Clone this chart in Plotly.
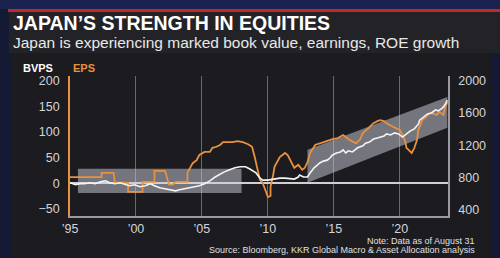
import plotly.graph_objects as go

# ---- data ----
# EPS (left axis)
eps_year = [1995.0, 1997.4, 1997.4, 1998.3, 1998.4, 1999.4, 1999.4, 2000.5, 2000.5, 2001.4, 2001.4, 2002.2, 2002.3, 2002.5,
            2002.8, 2003.0, 2003.9, 2003.9, 2004.3, 2004.6, 2004.8, 2005.2, 2005.6, 2005.8, 2006.1, 2006.4, 2006.6, 2007.3,
            2007.7, 2008.1, 2008.5, 2008.8, 2009.0, 2009.2, 2009.4, 2009.6, 2009.8, 2010.0, 2010.2, 2010.2, 2010.4, 2010.5,
            2010.9, 2011.3, 2011.5, 2011.7, 2011.9, 2012.0, 2012.3, 2012.6, 2012.8, 2013.0, 2013.2, 2013.6, 2014.0, 2014.2,
            2014.5, 2014.9, 2015.3, 2015.7, 2015.9, 2016.2, 2016.5, 2016.7, 2017.0, 2017.2, 2017.6, 2018.0, 2018.3, 2018.5,
            2018.8, 2019.0, 2019.4, 2019.8, 2020.0, 2020.2, 2020.4, 2020.5, 2020.8, 2020.9, 2021.1, 2021.3, 2021.4, 2021.6,
            2021.7, 2022.0, 2022.3, 2022.6, 2022.8, 2023.0, 2023.3, 2023.4, 2023.6]
eps_value = [12, 12, 20, 20, 1, 1, -17, -17, 2.5, 2.5, 24, 24, 16, -3,
             -3, 2.5, 2.5, 20, 39, 45, 55, 61, 61, 69, 71, 75, 80, 80,
             82, 80, 76, 71, 51, 26, 6, 1, -13, -27, -25, -7, 16, 32,
             51, 59, 55, 45, 36, 30, 36, 26, 30, 41, 59, 75, 78, 80,
             82, 86, 88, 94, 90, 84, 80, 78, 86, 98, 107, 117, 121, 123,
             121, 117, 111, 107, 104, 94, 82, 69, 61, 59, 69, 84, 104, 115,
             123, 130, 137, 135, 133, 139, 133, 146, 158]

# BVPS (right axis, index units)
bvps_year = [1995.0, 1995.4, 1995.8, 1996.1, 1996.5, 1996.9, 1997.3, 1997.7, 1998.0, 1998.4, 1998.8, 1999.2, 1999.5, 1999.9,
             2000.3, 2000.7, 2001.1, 2001.4, 2001.8, 2002.2, 2002.6, 2003.0, 2003.3, 2003.7, 2004.1, 2004.5, 2004.8, 2005.2,
             2005.6, 2006.0, 2006.4, 2006.7, 2007.1, 2007.5, 2007.9, 2008.3, 2008.6, 2008.9, 2009.1, 2009.4, 2009.6, 2010.0,
             2010.5, 2010.9, 2011.3, 2011.7, 2012.0, 2012.3, 2012.4, 2012.7, 2013.0, 2013.2, 2013.5, 2013.7, 2013.9, 2014.2,
             2014.5, 2014.7, 2014.9, 2015.2, 2015.5, 2015.7, 2015.9, 2016.1, 2016.4, 2016.6, 2016.8, 2017.2, 2017.4, 2017.7,
             2018.0, 2018.3, 2018.5, 2018.8, 2019.0, 2019.3, 2019.6, 2019.9, 2020.2, 2020.5, 2020.8, 2021.1, 2021.4, 2021.5,
             2021.8, 2022.1, 2022.4, 2022.7, 2022.9, 2023.2, 2023.4, 2023.6]
bvps_value = [738, 713, 726, 726, 738, 726, 748, 761, 738, 726, 738, 713, 700, 713,
              688, 700, 726, 700, 675, 662, 650, 637, 650, 662, 675, 688, 700, 726,
              761, 808, 846, 872, 897, 922, 935, 935, 910, 884, 859, 795, 770, 770,
              783, 795, 795, 783, 783, 808, 834, 808, 808, 859, 922, 948, 979, 1005,
              1017, 1043, 1081, 1106, 1119, 1144, 1106, 1132, 1119, 1144, 1170, 1195, 1227, 1240,
              1278, 1290, 1303, 1316, 1341, 1328, 1354, 1341, 1303, 1341, 1379, 1404, 1462, 1512,
              1550, 1588, 1601, 1639, 1627, 1658, 1696, 1760]

# shaded ranges (left axis units)
band1_year = [1995.6, 2008.0]
band1_low = [-19, -19]
band1_high = [28, 28]
band2_year = [2013.0, 2023.6]
band2_low = [1, 108]
band2_high = [65, 168]

x_ticks = [1995, 2000, 2005, 2010, 2015, 2020]
x_tick_labels = ["\u201995", "\u201900", "\u201905", "\u201910", "\u201915", "\u201920"]
left_ticks = [-50, 0, 50, 100, 150, 200]
right_ticks = [400, 800, 1200, 1600, 2000]

ORANGE = "#e8913f"
WHITE = "#f4f4f4"
BAND = "rgba(205,205,220,0.5)"
FONT = "Liberation Sans"
TICKCOL = "#d4d4d8"

W, H = 500, 258
L, R, T, B = 70, 448, 76, 216


def px(x):
    return (x - L) / (R - L)


def py(y):
    return (B - y) / (B - T)


fig = go.Figure()

for xs, lo, hi in [(band1_year, band1_low, band1_high), (band2_year, band2_low, band2_high)]:
    fig.add_trace(go.Scatter(
        x=xs + xs[::-1], y=hi + lo[::-1], fill="toself", fillcolor=BAND,
        line=dict(width=0), mode="lines", hoverinfo="skip", showlegend=False))

fig.add_trace(go.Scatter(x=eps_year, y=eps_value, mode="lines", name="EPS",
                         line=dict(color=ORANGE, width=1.8), showlegend=False))
fig.add_trace(go.Scatter(x=bvps_year, y=bvps_value, mode="lines", name="BVPS", yaxis="y2",
                         line=dict(color=WHITE, width=1.6), showlegend=False))

shapes = [
    dict(type="rect", xref="paper", yref="paper", x0=px(0), x1=px(W), y0=py(0), y1=py(9),
         fillcolor="#1a2350", line=dict(width=0), layer="below"),
    dict(type="rect", xref="paper", yref="paper", x0=px(9), x1=px(W), y0=py(11), y1=py(53),
         fillcolor="#232327", line=dict(width=0), layer="below"),
    dict(type="rect", xref="paper", yref="paper", x0=px(12), x1=px(491), y0=py(53), y1=py(W),
         fillcolor="#1c1c20", line=dict(width=0), layer="below"),
    dict(type="rect", xref="paper", yref="paper", x0=px(8), x1=px(W), y0=py(9), y1=py(12),
         fillcolor="#c8242c", line=dict(width=0), layer="below"),
]

annotations = [
    dict(text="<b>JAPAN\u2019S STRENGTH IN EQUITIES</b>", xref="paper", yref="paper", x=px(11), y=py(23),
         xanchor="left", yanchor="middle", showarrow=False, font=dict(family=FONT, size=19.5, color="#ffffff")),
    dict(text="Japan is experiencing marked book value, earnings, ROE growth", xref="paper", yref="paper",
         x=px(11), y=py(43), xanchor="left", yanchor="middle", showarrow=False,
         font=dict(family=FONT, size=15.5, color="#e8e8e8")),
    dict(text="<b>BVPS</b>", xref="paper", yref="paper", x=px(21), y=py(68), xanchor="left", yanchor="middle",
         showarrow=False, font=dict(family=FONT, size=11, color="#ffffff")),
    dict(text="<b>EPS</b>", xref="paper", yref="paper", x=px(71), y=py(68), xanchor="left", yanchor="middle",
         showarrow=False, font=dict(family=FONT, size=11, color=ORANGE)),
    dict(text="Note: Data as of August 31", xref="paper", yref="paper", x=px(477), y=py(240.5),
         xanchor="right", yanchor="middle", showarrow=False, font=dict(family=FONT, size=9, color="#e0e0e0")),
    dict(text="Source: Bloomberg, KKR Global Macro &amp; Asset Allocation analysis", xref="paper", yref="paper",
         x=px(477), y=py(249.5), xanchor="right", yanchor="middle", showarrow=False,
         font=dict(family=FONT, size=9, color="#e0e0e0")),
]

fig.update_layout(
    width=W, height=H,
    margin=dict(l=L, r=W - R, t=T, b=H - B, pad=0),
    paper_bgcolor="#141a33", plot_bgcolor="rgba(0,0,0,0)",
    shapes=shapes, annotations=annotations, showlegend=False,
    xaxis=dict(range=[1995, 2023.65], tickvals=x_ticks, ticktext=x_tick_labels,
               showgrid=True, gridcolor="rgba(200,200,205,0.45)", gridwidth=1,
               showline=True, linecolor="#9a9aa0", linewidth=1.5, ticks="", zeroline=False,
               tickfont=dict(family=FONT, size=12.5, color=TICKCOL)),
    yaxis=dict(range=[-64, 209], tickvals=left_ticks, showgrid=False,
               zeroline=True, zerolinecolor="#d0d0d4", zerolinewidth=1.5,
               showline=True, linecolor=ORANGE, linewidth=1.8, ticks="",
               tickfont=dict(family=FONT, size=12.5, color=TICKCOL), ticklabelstandoff=6),
    yaxis2=dict(range=[326, 2058], tickvals=right_ticks, overlaying="y", side="right", anchor="x",
                showgrid=False, zeroline=False, showline=True, linecolor="#9a9aa0", linewidth=1.5,
                ticks="", tickfont=dict(family=FONT, size=12.5, color=TICKCOL), ticklabelstandoff=6),
)

fig.write_html("out.html")
